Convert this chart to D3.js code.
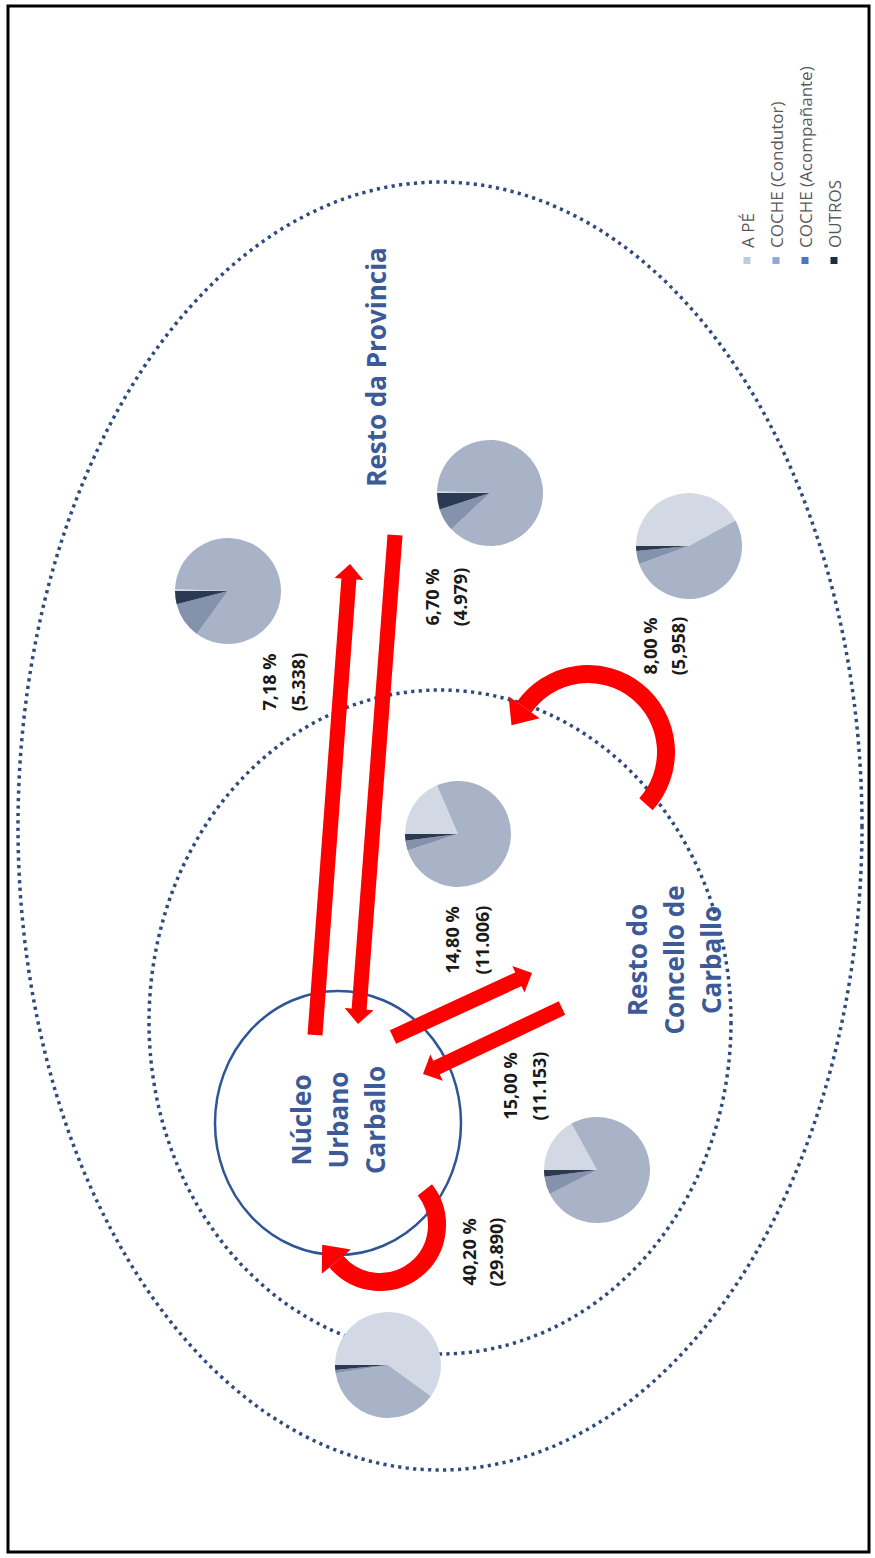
<!DOCTYPE html>
<html><head><meta charset="utf-8">
<script src="https://cdn.jsdelivr.net/npm/d3@7"></script>
<style>html,body{margin:0;padding:0;background:#fff}svg{display:block}</style>
</head><body>
<svg id="chart" width="875" height="1558"></svg>
<script>
// ---------------- DATA ----------------
const modes = ["A PÉ", "COCHE (Condutor)", "COCHE (Acompañante)", "OUTROS"];
const flowShares = ["7,18 %", "6,70 %", "8,00 %", "14,80 %", "15,00 %", "40,20 %"];
const flowTrips = ["(5.338)", "(4.979)", "(5,958)", "(11.006)", "(11.153)", "(29.890)"];
// modal split (%) per flow, order as modes
const splitNucleoProvincia  = [0.5, 84.5, 11, 4];
const splitProvinciaNucleo  = [0.5, 87.5, 7, 5];
const splitProvincia        = [42, 52.5, 4, 1.5];
const splitNucleoConcello   = [18.5, 76.5, 3, 2];
const splitConcelloNucleo   = [17, 75.5, 5.5, 2];
const splitNucleo           = [60, 37.5, 1, 1.5];
const zoneNames = [["Resto da Provincia"], ["Resto do", "Concello de", "Carballo"], ["Núcleo", "Urbano", "Carballo"]];

// ---------------- LAYOUT ----------------
const pieColors = ["#d3d9e4", "#a9b3c7", "#8493ab", "#2b3952"];
const legendColors = ["#bccbe4", "#8eabd8", "#4677c4", "#1e2c47"];
const pieLayout = [
  {split: splitNucleoProvincia, cx: 228, cy: 591},
  {split: splitProvinciaNucleo, cx: 490, cy: 493},
  {split: splitProvincia,       cx: 689, cy: 546},
  {split: splitNucleoConcello,  cx: 458, cy: 834},
  {split: splitConcelloNucleo,  cx: 597, cy: 1170},
  {split: splitNucleo,          cx: 388, cy: 1365}
];
const pieR = 53;
const labelPos = [[269, 682, 29], [432, 597, 28], [650, 646, 28], [452, 940, 30], [510, 1086, 29], [469, 1252, 27]];
const straightArrows = [
  {x1: 315, y1: 1035, x2: 350, y2: 564},
  {x1: 395, y1: 535,  x2: 358, y2: 1024},
  {x1: 393, y1: 1037, x2: 532, y2: 973},
  {x1: 562, y1: 1008, x2: 423, y2: 1074}
];
const arcArrows = [
  {cx: 380, cy: 1225, r: 57, a0: -38, a1: 140},
  {cx: 588, cy: 752, r: 78, a0: 42, a1: -145}
];

const svg = d3.select("#chart");
const g = svg.append("g");

// frame
g.append("rect").attr("x", 8).attr("y", 6).attr("width", 861).attr("height", 1546)
  .attr("fill", "none").attr("stroke", "#000").attr("stroke-width", 3);

// dotted ellipses
const dotted = (cx, cy, rx, ry) => g.append("ellipse").attr("cx", cx).attr("cy", cy)
  .attr("rx", rx).attr("ry", ry).attr("fill", "none").attr("stroke", "#2f4a7c")
  .attr("stroke-width", 3.5).attr("stroke-dasharray", "3.2 4.3");
dotted(440, 826, 422, 644);
dotted(440, 1022, 291, 332);

// núcleo circle
g.append("ellipse").attr("cx", 338).attr("cy", 1123).attr("rx", 123).attr("ry", 132)
  .attr("fill", "none").attr("stroke", "#2e5596").attr("stroke-width", 2.5);

// pies
const pie = d3.pie().sort(null).startAngle(-Math.PI / 2).endAngle(1.5 * Math.PI);
const arc = d3.arc().innerRadius(0).outerRadius(pieR);
pieLayout.forEach(p => {
  g.append("g").attr("transform", `translate(${p.cx},${p.cy})`)
    .selectAll("path").data(pie(p.split)).join("path")
    .attr("d", arc).attr("fill", (d, i) => pieColors[i]);
});

// arrows
const red = "#ff0000";
function headPoly(x, y, ux, uy, len, w) {
  const px = -uy, py = ux;
  return [[x + px * w / 2, y + py * w / 2], [x + ux * len, y + uy * len], [x - px * w / 2, y - py * w / 2]];
}
straightArrows.forEach(a => {
  const dx = a.x2 - a.x1, dy = a.y2 - a.y1, L = Math.hypot(dx, dy);
  const ux = dx / L, uy = dy / L, hl = 15;
  const bx = a.x2 - ux * hl, by = a.y2 - uy * hl;
  g.append("line").attr("x1", a.x1).attr("y1", a.y1).attr("x2", bx + ux).attr("y2", by + uy)
    .attr("stroke", red).attr("stroke-width", 15);
  g.append("polygon").attr("fill", red)
    .attr("points", headPoly(bx, by, ux, uy, hl, 29).map(p => p.join(",")).join(" "));
});
arcArrows.forEach(a => {
  const rad = Math.PI / 180;
  const a0 = a.a0 * rad, a1 = a.a1 * rad;
  const path = d3.path();
  path.arc(a.cx, a.cy, a.r, a0, a1, a1 < a0);
  g.append("path").attr("d", path.toString()).attr("fill", "none").attr("stroke", red).attr("stroke-width", 18);
  const ex = a.cx + a.r * Math.cos(a1), ey = a.cy + a.r * Math.sin(a1);
  const s = a1 < a0 ? -1 : 1;
  const ux = -Math.sin(a1) * s, uy = Math.cos(a1) * s;
  g.append("polygon").attr("fill", red)
    .attr("points", headPoly(ex, ey, ux, uy, 22, 38).map(p => p.join(",")).join(" "));
});

// rotated text helper
function rotText(x, y, txt, size, weight, fill, anchor) {
  return g.append("text").attr("transform", `translate(${x},${y}) rotate(-90)`)
    .attr("text-anchor", anchor || "middle").attr("dominant-baseline", "central")
    .attr("font-family", "'Open Sans', 'DejaVu Sans', sans-serif")
    .attr("font-size", size).attr("font-weight", weight).attr("fill", fill).text(txt);
}

// flow labels
labelPos.forEach((p, i) => {
  rotText(p[0], p[1], flowShares[i], 18, 700, "#1a1a1a");
  rotText(p[0] + p[2], p[1], flowTrips[i], 18, 700, "#1a1a1a");
});

// zone names
const zonePos = [[376, 367, 0], [637, 960, 37], [301, 1120, 37]];
zoneNames.forEach((lines, i) => {
  lines.forEach((t, j) => rotText(zonePos[i][0] + j * zonePos[i][2], zonePos[i][1], t, 26, 700, "#3c5a98"));
});

// legend
modes.forEach((m, i) => {
  const x = 747 + i * 29;
  g.append("rect").attr("x", x - 3.5).attr("y", 257).attr("width", 7).attr("height", 7).attr("fill", legendColors[i]);
  rotText(x, 248, m, 17, 400, "#595959", "start");
});
</script>
</body></html>
